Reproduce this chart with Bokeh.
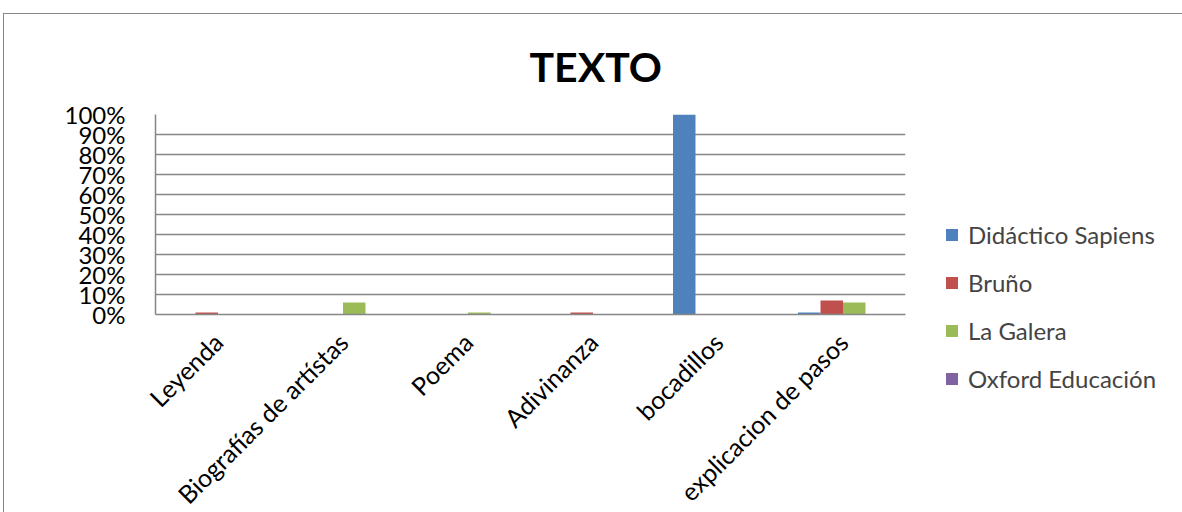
import math
from bokeh.plotting import figure
from bokeh.models import ColumnDataSource, Legend, LegendItem, FixedTicker, CustomJSTickFormatter
from bokeh.transform import dodge
from bokeh.embed import file_html
from bokeh.resources import INLINE

categories = ["Leyenda", "Biografías de artístas", "Poema", "Adivinanza", "bocadillos", "explicacion de pasos"]
series_names = ["Didáctico Sapiens", "Bruño", "La Galera", "Oxford Educación"]
didactico = [0, 0, 0, 0, 100, 1]
bruno = [1, 0, 0, 1, 0, 7]
galera = [0, 6, 1, 0, 0, 6]
oxford = [0, 0, 0, 0, 0, 0]
y_ticks = [0, 10, 20, 30, 40, 50, 60, 70, 80, 90, 100]
colors = ["#4F81BD", "#C0504D", "#9BBB59", "#8064A2"]

FONT = "Lato"
GRAY = "#868686"

src = ColumnDataSource(dict(cat=categories, s0=didactico, s1=bruno, s2=galera, s3=oxford))

p = figure(x_range=categories, y_range=(0, 100), frame_width=750, frame_height=200,
           output_backend="svg", toolbar_location=None,
           min_border_left=151, min_border_top=100, min_border_right=0, min_border_bottom=198)
p.styles = {"margin-left": "3px", "margin-top": "13px",
            "border-left": "1px solid #868686", "border-top": "1px solid #868686"}

bw = 0.18
offsets = [-1.5 * bw, -0.5 * bw, 0.5 * bw, 1.5 * bw]
renderers = []
for i, (name, col) in enumerate(zip(series_names, colors)):
    r = p.vbar(x=dodge("cat", offsets[i], range=p.x_range), top="s%d" % i, width=bw,
               source=src, fill_color=col, line_color=None)
    renderers.append(r)

p.outline_line_color = None
p.xgrid.grid_line_color = None
p.ygrid.grid_line_color = GRAY
p.ygrid.grid_line_width = 1.5
p.yaxis.ticker = FixedTicker(ticks=y_ticks)
p.yaxis.formatter = CustomJSTickFormatter(code="return tick + '%';")
for ax in (p.xaxis[0], p.yaxis[0]):
    ax.axis_line_color = GRAY
    ax.axis_line_width = 1.5
    ax.major_tick_line_color = None
    ax.minor_tick_line_color = None
    ax.major_label_text_font = FONT
    ax.major_label_text_color = "#000000"
p.yaxis.major_label_text_font_size = "24px"
p.xaxis.major_label_text_font_size = "25px"
p.yaxis.major_label_standoff = 24
p.xaxis.major_label_orientation = math.pi / 4
p.xaxis.major_label_standoff = 17

p.title.text = "TEXTO"
p.title.text_font = FONT
p.title.text_font_size = "41px"
p.title.text_font_style = "bold"
p.title.align = "left"
p.title.offset = 374
p.title.standoff = 47
p.title.text_color = "#000000"

legend = Legend(items=[LegendItem(label=n, renderers=[r]) for n, r in zip(series_names, renderers)],
                location=(39, -79), orientation="vertical")
legend.label_text_font = FONT
legend.label_text_font_size = "24px"
legend.glyph_width = 15
legend.glyph_height = 15
legend.label_standoff = 9
legend.label_height = 30
legend.spacing = 18
legend.padding = 0
legend.margin = 0
legend.border_line_color = None
legend.background_fill_alpha = 0
p.add_layout(legend, "right")

open("out.html", "w").write(file_html(p, INLINE))
